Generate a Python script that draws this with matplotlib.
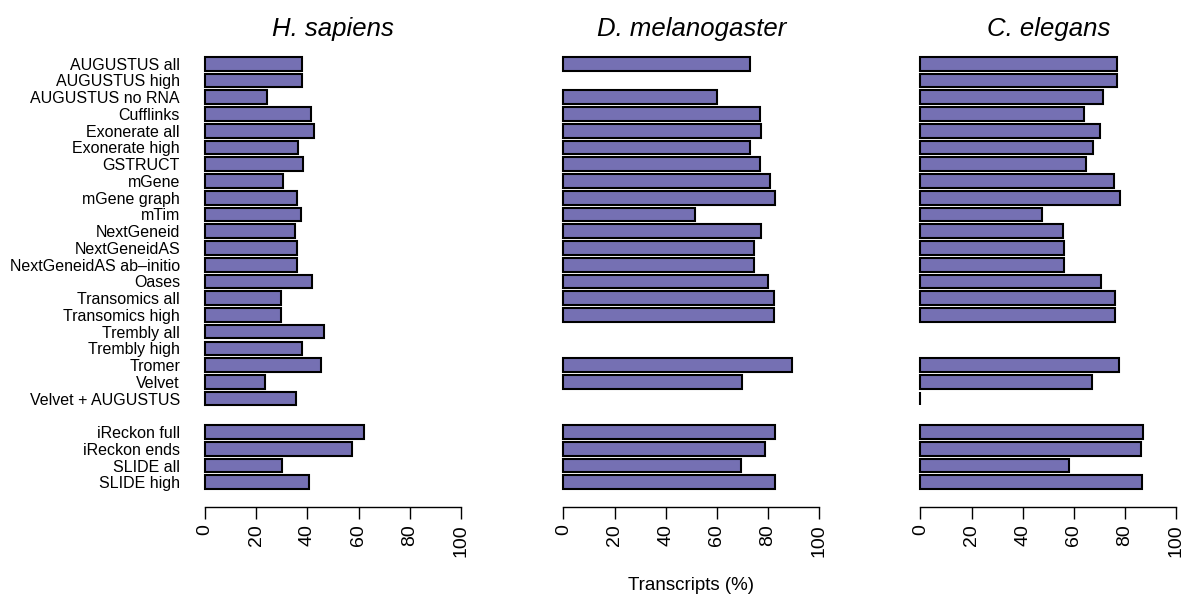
"""Transcript recovery per method, three species, horizontal bars."""

import numpy as np
import matplotlib
matplotlib.use("Agg")
import matplotlib.pyplot as plt

nan = np.nan

methods = [
    "AUGUSTUS all", "AUGUSTUS high", "AUGUSTUS no RNA", "Cufflinks",
    "Exonerate all", "Exonerate high", "GSTRUCT", "mGene", "mGene graph",
    "mTim", "NextGeneid", "NextGeneidAS", "NextGeneidAS ab\u2013initio",
    "Oases", "Transomics all", "Transomics high", "Trembly all",
    "Trembly high", "Tromer", "Velvet", "Velvet + AUGUSTUS",
]
extra_methods = ["iReckon full", "iReckon ends", "SLIDE all", "SLIDE high"]

species = ["H. sapiens", "D. melanogaster", "C. elegans"]

h_sapiens = [37.8, 37.8, 24.4, 41.3, 42.6, 36.5, 38.3, 30.5, 36.1, 37.5,
             35.3, 36.1, 36.1, 41.8, 29.5, 29.6, 46.5, 37.9, 45.5, 23.4, 35.7,
             62.1, 57.3, 29.9, 40.6]
d_melanogaster = [72.9, nan, 60.1, 77.0, 77.3, 72.9, 77.0, 80.6, 82.7, 51.5,
                  77.3, 74.6, 74.6, 80.1, 82.4, 82.4, nan, nan, 89.2, 69.7, nan,
                  82.5, 78.6, 69.6, 82.5]
c_elegans = [77.0, 77.0, 71.5, 64.1, 70.1, 67.6, 64.9, 75.8, 78.0, 47.7,
             55.7, 56.1, 56.1, 70.7, 76.0, 76.0, nan, nan, 77.8, 67.1, 0.0,
             86.8, 86.4, 58.2, 86.5]

xticks = [0, 20, 40, 60, 80, 100]

BAR_COLOR = "#7570B3"
W, H = 1189, 599

plt.rcParams["font.family"] = ["Liberation Sans", "DejaVu Sans"]

fig = plt.figure(figsize=(W / 100, H / 100), dpi=100)

labels = methods + extra_methods
ypos = list(range(len(methods))) + [len(methods) + 1 + i for i in range(len(extra_methods))]

panel_left = [205, 563.3, 920.3]
panel_width = 256.0
ax_top, ax_bottom = 47, 507
ylim = (26.475, -1.0)

for k, (name, vals) in enumerate(zip(species, [h_sapiens, d_melanogaster, c_elegans])):
    ax = fig.add_axes([panel_left[k] / W, (H - ax_bottom) / H,
                       panel_width / W, (ax_bottom - ax_top) / H])
    vals = np.array(vals, dtype=float)
    ok = ~np.isnan(vals)
    bars = ax.barh(np.array(ypos)[ok], vals[ok], height=0.82, color=BAR_COLOR,
                   edgecolor="black", linewidth=1.5)
    for b in bars:
        b.set_clip_on(False)
    ax.set_xlim(0, 100)
    ax.set_ylim(*ylim)
    for s in ["top", "right", "left"]:
        ax.spines[s].set_visible(False)
    ax.spines["bottom"].set_linewidth(1.0)
    ax.set_xticks(xticks)
    ax.set_xticklabels([str(t) for t in xticks], rotation=90, fontsize=14)
    ax.tick_params(axis="x", length=8.6, width=1.0, pad=4)
    if k == 0:
        ax.set_yticks(ypos)
        ax.set_yticklabels(labels, fontsize=11.5)
        ax.tick_params(axis="y", length=0, pad=18)
    else:
        ax.set_yticks([])
    cx = (panel_left[k] + panel_width / 2) / W
    fig.text(cx, 1 - 36 / H, name, ha="center", va="baseline",
             fontsize=18.5, style="italic")

fig.text((panel_left[1] + panel_width / 2) / W, 1 - 590 / H, "Transcripts (%)",
         ha="center", va="baseline", fontsize=13.5)

fig.savefig("out.png", dpi=100)
